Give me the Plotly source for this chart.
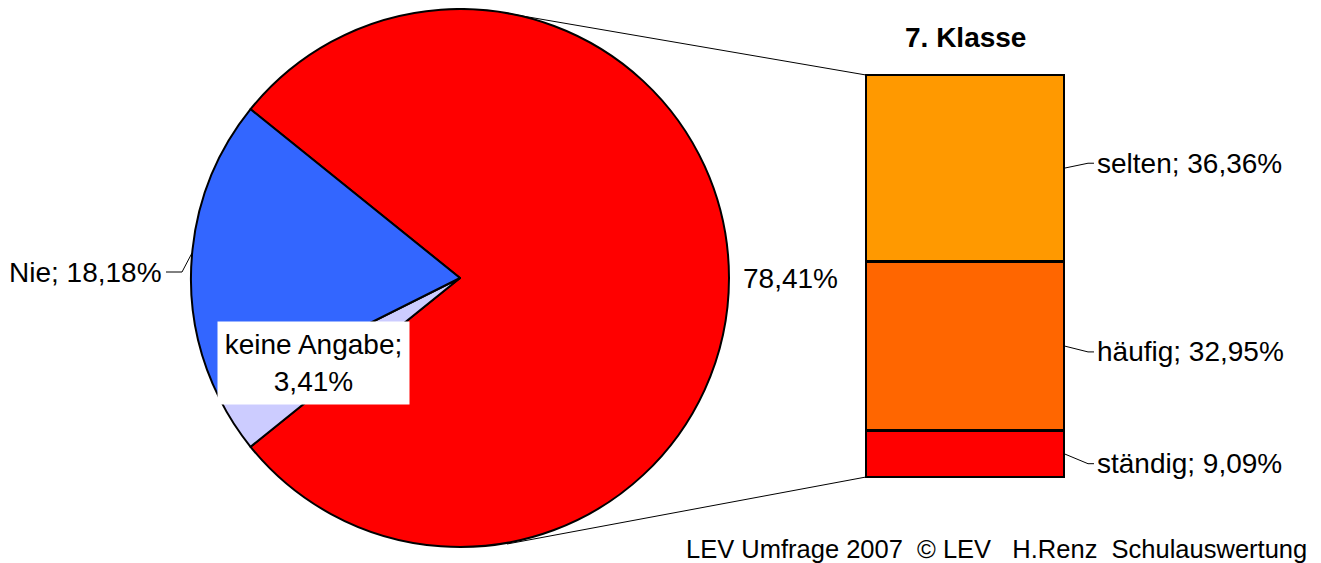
import plotly.graph_objects as go

# pie: overall answer shares
pie_labels = ["häufig/ständig/selten", "keine Angabe", "Nie"]
pie_values = [78.41, 3.41, 18.18]
pie_colors = ["#FF0000", "#CCCCFF", "#3366FF"]

# bar: breakdown of the big slice (bottom to top)
bar_labels = ["ständig", "häufig", "selten"]
bar_values = [9.09, 32.95, 36.36]
bar_colors = ["#FF0000", "#FF6600", "#FF9900"]

title_text = "7. Klasse"
footer_text = "LEV Umfrage 2007  © LEV   H.Renz  Schulauswertung"

W, H = 1321, 563
OFF = 8  # page body margin of the html page
FW, FH = W - OFF, H - OFF
FONT = "Liberation Sans, Arial, sans-serif"


def fx(p):
    return (p - OFF) / FW


def fy(p):
    return 1 - (p - OFF) / FH


def pct(v):
    return ("%.2f" % v).replace(".", ",") + "%"


# bar geometry in pixels
bar_l, bar_r, bar_t, bar_b = 866, 1064, 75, 477
pad = 3
total = sum(bar_values)
k = (bar_b - bar_t) / total
kx = bar_r - bar_l

fig = go.Figure()

fig.add_trace(go.Pie(
    labels=pie_labels, values=pie_values, sort=False,
    direction="clockwise",
    rotation=90 - pie_values[0] * 3.6 / 2,
    marker=dict(colors=pie_colors, line=dict(color="black", width=2)),
    textinfo="none", hoverinfo="label+percent",
    domain=dict(x=[fx(191), fx(729)], y=[fy(547), fy(9)]),
    showlegend=False,
))

for lab, val, col in zip(bar_labels, bar_values, bar_colors):
    fig.add_trace(go.Bar(
        x=[0], y=[val], name=lab, width=1,
        marker=dict(color=col, line=dict(color="black", width=2.5)),
        showlegend=False,
    ))

fig.update_layout(
    width=FW, height=FH, barmode="stack",
    margin=dict(l=0, r=0, t=0, b=0),
    paper_bgcolor="white", plot_bgcolor="rgba(0,0,0,0)",
    font=dict(family=FONT, size=28, color="black"),
    xaxis=dict(domain=[fx(bar_l - pad), fx(bar_r + pad)],
               range=[-0.5 - pad / kx, 0.5 + pad / kx], visible=False),
    yaxis=dict(domain=[fy(bar_b + pad), fy(bar_t - pad)],
               range=[-pad / k, total + pad / k], visible=False),
)

shapes = []
annotations = []

# connector lines between pie and bar
thin = dict(color="black", width=1)
shapes.append(dict(type="line", xref="paper", yref="paper",
                   x0=fx(505), y0=fy(13), x1=fx(bar_l), y1=fy(bar_t), line=thin))
shapes.append(dict(type="line", xref="paper", yref="paper",
                   x0=fx(507), y0=fy(544), x1=fx(bar_l), y1=fy(bar_b), line=thin))

# frame line at right edge
shapes.append(dict(type="line", xref="paper", yref="paper",
                   x0=fx(1319), y0=0, x1=fx(1319), y1=1,
                   line=dict(color="#A0A0A0", width=1)))

# pie labels
shapes.append(dict(type="path", xref="paper", yref="paper",
                   path="M %f,%f L %f,%f L %f,%f" % (fx(166), fy(272), fx(182), fy(272), fx(192), fy(253)),
                   line=thin))
annotations.append(dict(x=fx(164), y=fy(272), xref="paper", yref="paper",
                        text=pie_labels[2] + "; " + pct(pie_values[2]),
                        xanchor="right", yanchor="middle", showarrow=False))
annotations.append(dict(x=fx(741), y=fy(278), xref="paper", yref="paper",
                        text=pct(pie_values[0]),
                        xanchor="left", yanchor="middle", showarrow=False))
annotations.append(dict(x=fx(313.5), y=fy(363), xref="paper", yref="paper",
                        text=pie_labels[1] + ";<br>" + pct(pie_values[1]),
                        xanchor="center", yanchor="middle", showarrow=False,
                        bgcolor="white", width=191, height=82, borderpad=0))

# bar labels with leader lines
label_dy = [10, 6, -5]
cum = 0
for lab, val, dy in zip(bar_labels, bar_values, label_dy):
    mid = cum + val / 2
    cum += val
    y0 = bar_b - mid * k
    y1 = y0 + dy
    shapes.append(dict(type="path", xref="paper", yref="paper",
                       path="M %f,%f L %f,%f L %f,%f" % (fx(bar_r), fy(y0), fx(1088), fy(y1), fx(1094), fy(y1)),
                       line=thin))
    annotations.append(dict(x=fx(1095), y=fy(y1), xref="paper", yref="paper",
                            text=lab + "; " + pct(val),
                            xanchor="left", yanchor="middle", showarrow=False))

annotations.append(dict(x=fx(965), y=fy(37), xref="paper", yref="paper",
                        text="<b>" + title_text + "</b>",
                        xanchor="center", yanchor="middle", showarrow=False))
annotations.append(dict(x=fx(1309), y=fy(549), xref="paper", yref="paper",
                        text=footer_text, font=dict(size=25.5),
                        xanchor="right", yanchor="middle", showarrow=False))

fig.update_layout(shapes=shapes, annotations=annotations)

fig.write_html("out.html")
